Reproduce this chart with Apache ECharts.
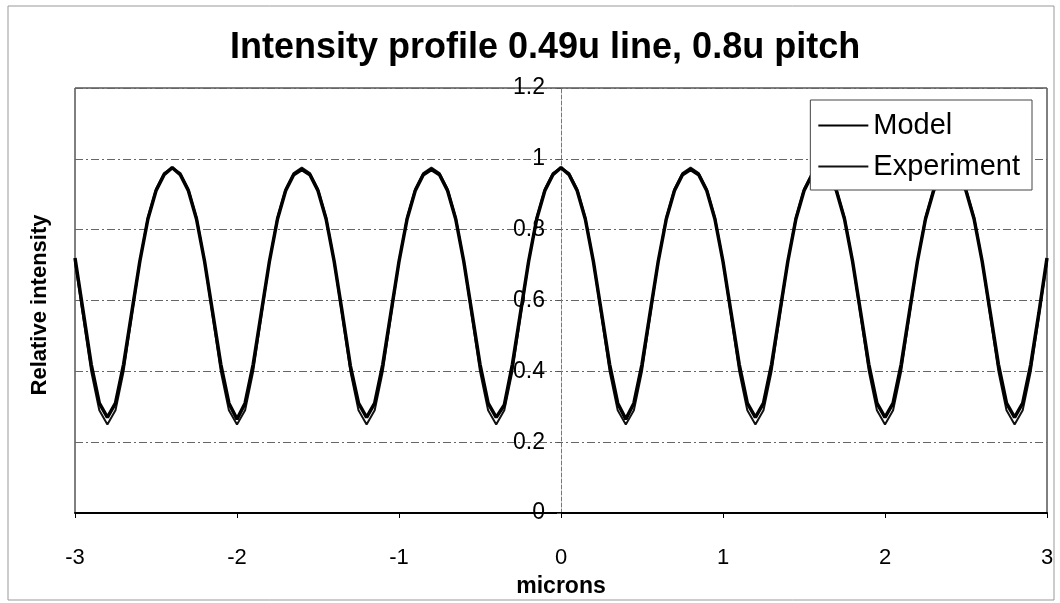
<!DOCTYPE html>
<html>
<head>
<meta charset="utf-8">
<script src="https://cdn.jsdelivr.net/npm/echarts@6/dist/echarts.min.js"></script>
<style>
html,body{margin:0;padding:0;background:#fff;}
#chart{width:1060px;height:603px;}
</style>
</head>
<body>
<div id="chart"></div>
<script>
var titleText = 'Intensity profile 0.49u line, 0.8u pitch';
var xName = 'microns';
var yName = 'Relative intensity';
var seriesNames = ['Model', 'Experiment'];
var yTicks = [0, 0.2, 0.4, 0.6, 0.8, 1, 1.2];
var xTicks = [-3, -2, -1, 0, 1, 2, 3];

var xs = [
-3.00,-2.95,-2.90,-2.85,-2.80,-2.75,-2.70,-2.65,-2.60,-2.55,-2.50,-2.45,-2.40,-2.35,-2.30,-2.25,
-2.20,-2.15,-2.10,-2.05,-2.00,-1.95,-1.90,-1.85,-1.80,-1.75,-1.70,-1.65,-1.60,-1.55,-1.50,-1.45,
-1.40,-1.35,-1.30,-1.25,-1.20,-1.15,-1.10,-1.05,-1.00,-0.95,-0.90,-0.85,-0.80,-0.75,-0.70,-0.65,
-0.60,-0.55,-0.50,-0.45,-0.40,-0.35,-0.30,-0.25,-0.20,-0.15,-0.10,-0.05,0.00,0.05,0.10,0.15,
0.20,0.25,0.30,0.35,0.40,0.45,0.50,0.55,0.60,0.65,0.70,0.75,0.80,0.85,0.90,0.95,
1.00,1.05,1.10,1.15,1.20,1.25,1.30,1.35,1.40,1.45,1.50,1.55,1.60,1.65,1.70,1.75,
1.80,1.85,1.90,1.95,2.00,2.05,2.10,2.15,2.20,2.25,2.30,2.35,2.40,2.45,2.50,2.55,
2.60,2.65,2.70,2.75,2.80,2.85,2.90,2.95,3.00];

var model = [
0.72,0.57,0.42,0.31,0.27,0.31,0.42,0.565,0.71,0.83,0.91,0.955,0.975,0.955,0.91,0.83,
0.71,0.565,0.42,0.31,0.265,0.31,0.42,0.565,0.71,0.83,0.91,0.955,0.97,0.955,0.91,0.83,
0.71,0.565,0.415,0.31,0.27,0.31,0.42,0.565,0.71,0.83,0.91,0.955,0.97,0.955,0.91,0.83,
0.71,0.565,0.42,0.31,0.27,0.305,0.42,0.565,0.71,0.83,0.91,0.955,0.975,0.955,0.91,0.83,
0.71,0.565,0.42,0.31,0.265,0.31,0.42,0.565,0.71,0.83,0.91,0.955,0.97,0.955,0.91,0.83,
0.71,0.565,0.42,0.31,0.27,0.31,0.42,0.565,0.71,0.83,0.91,0.955,0.97,0.955,0.91,0.83,
0.71,0.565,0.42,0.31,0.27,0.31,0.42,0.565,0.71,0.83,0.91,0.955,0.97,0.955,0.91,0.83,
0.71,0.565,0.42,0.31,0.27,0.31,0.42,0.565,0.72];

var experiment = [
0.71,0.555,0.40,0.29,0.25,0.29,0.40,0.555,0.71,0.835,0.915,0.96,0.975,0.96,0.915,0.835,
0.71,0.555,0.40,0.29,0.25,0.29,0.40,0.555,0.71,0.835,0.915,0.96,0.975,0.96,0.915,0.835,
0.71,0.555,0.40,0.29,0.25,0.29,0.40,0.555,0.71,0.835,0.915,0.96,0.975,0.96,0.915,0.835,
0.71,0.555,0.40,0.29,0.25,0.29,0.40,0.555,0.71,0.835,0.915,0.96,0.975,0.96,0.915,0.835,
0.71,0.555,0.40,0.29,0.25,0.29,0.40,0.555,0.71,0.835,0.915,0.96,0.975,0.96,0.915,0.835,
0.71,0.555,0.40,0.29,0.25,0.29,0.40,0.555,0.71,0.835,0.915,0.96,0.975,0.96,0.915,0.835,
0.71,0.555,0.40,0.29,0.25,0.29,0.40,0.555,0.71,0.835,0.915,0.96,0.975,0.96,0.915,0.835,
0.71,0.555,0.40,0.29,0.25,0.29,0.40,0.555,0.71];

function pairs(ys){ return xs.map(function(x,i){ return [x, ys[i]]; }); }

var FONT = '"Liberation Sans", Arial, sans-serif';
var GRID_LEFT = 75, GRID_RIGHT = 13;
var chartW = 1060;
var chart = echarts.init(document.getElementById('chart'), null, {renderer:'canvas'});
// y axis crosses at x = 0: shift it from the left edge of the grid to the zero position
var plotW = chartW - GRID_LEFT - GRID_RIGHT;
var zeroOffset = -plotW * (0 - xTicks[0]) / (xTicks[xTicks.length-1] - xTicks[0]);
chart.setOption({
  backgroundColor: '#fff',
  animation: false,
  title: {
    text: titleText, left: 225, top: 25,
    textStyle: {fontFamily: FONT, fontSize: 36, fontWeight: 'bold', color: '#000'}
  },
  grid: {left: GRID_LEFT, right: GRID_RIGHT, top: 88, bottom: 80, show: true, borderColor: '#000', borderWidth: 1, backgroundColor: 'transparent'},
  legend: {
    orient: 'vertical', right: 28, top: 100,
    data: [{name: seriesNames[0], icon: 'rect'}, {name: seriesNames[1], icon: 'rect'}],
    itemWidth: 50, itemHeight: 2, itemGap: 12,
    backgroundColor: '#fff', borderColor: '#444', borderWidth: 1,
    padding: [11, 12, 9, 8],
    textStyle: {fontFamily: FONT, fontSize: 29, color: '#000', padding: [0,0,0,0]}
  },
  xAxis: {
    type: 'value', min: xTicks[0], max: xTicks[xTicks.length-1], interval: 1,
    name: xName, nameLocation: 'middle', nameGap: 62,
    nameTextStyle: {fontFamily: FONT, fontSize: 23, fontWeight: 'bold', color: '#000'},
    axisLine: {show: true, onZero: false, lineStyle: {color: '#000', width: 2}},
    axisTick: {show: true, length: 5, lineStyle: {color: '#000'}},
    axisLabel: {fontFamily: FONT, fontSize: 22, color: '#000', margin: 34},
    splitLine: {show: false}
  },
  yAxis: {
    type: 'value', min: yTicks[0], max: yTicks[yTicks.length-1], interval: 0.2,
    offset: zeroOffset,
    axisLine: {show: true, onZero: false, lineStyle: {color: '#777', width: 1, type: [4,2]}},
    axisTick: {show: true, length: 4, lineStyle: {color: '#555'}},
    axisLabel: {fontFamily: FONT, fontSize: 23, color: '#000', margin: 16,
      formatter: function(v){ return String(Math.round(v*10)/10); }},
    splitLine: {show: true, lineStyle: {color: '#666', width: 1, type: [8,3,2,3]}}
  },
  graphic: [
    {type: 'rect', shape: {x: 8, y: 6, width: 1046, height: 594},
     style: {fill: 'none', stroke: '#999', lineWidth: 1}, z: -1, silent: true},
    {type: 'text', x: 40, y: 305, rotation: Math.PI/2,
     style: {text: yName, fontFamily: FONT, fontSize: 22, fontWeight: 'bold', fill: '#000',
             textAlign: 'center', textVerticalAlign: 'middle'}}
  ],
  series: [
    {name: seriesNames[0], type: 'line', data: pairs(model), symbol: 'none', showSymbol: false, smooth: false,
     lineStyle: {color: '#000', width: 3.5}, itemStyle: {color: '#000'}, z: 3},
    {name: seriesNames[1], type: 'line', data: pairs(experiment), symbol: 'none', showSymbol: false, smooth: false,
     lineStyle: {color: '#111', width: 2}, itemStyle: {color: '#111'}, z: 2}
  ]
});
</script>
</body>
</html>
